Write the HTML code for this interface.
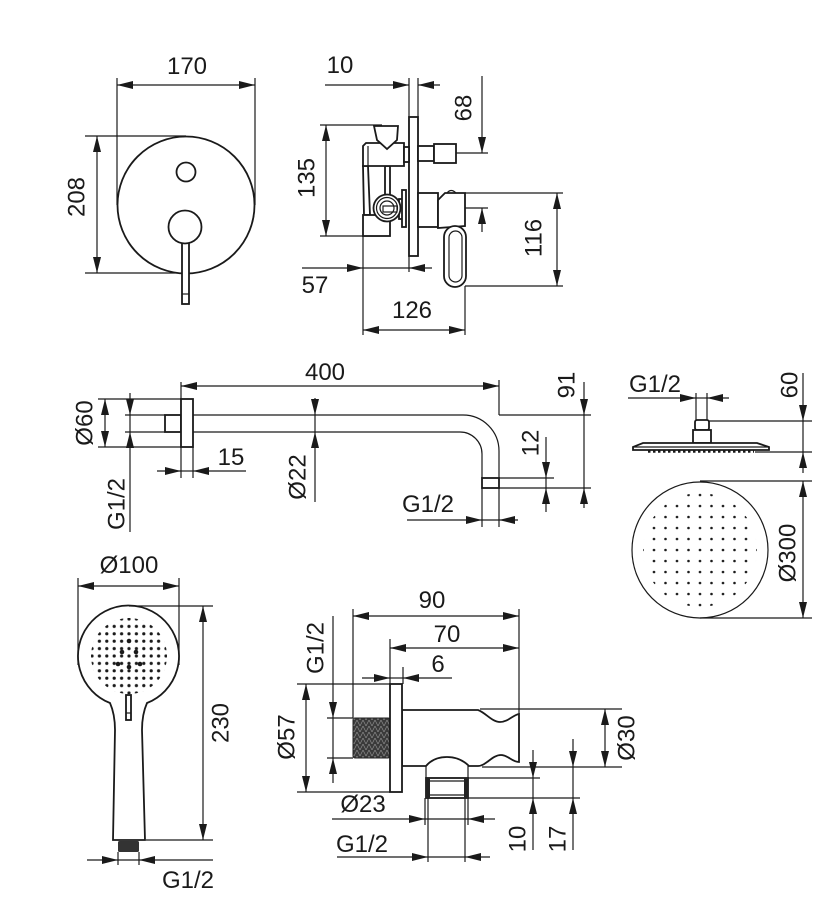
<!DOCTYPE html>
<html><head><meta charset="utf-8"><style>
html,body{margin:0;padding:0;background:#fff;}
svg{display:block;}
text{font-family:"Liberation Sans",sans-serif;font-size:24px;fill:#1a1a1a;}
.d{stroke:#1a1a1a;stroke-width:1.2;fill:none;}
.o{stroke:#1a1a1a;stroke-width:1.8;fill:#fff;}
</style></head><body>
<svg width="834" height="902" viewBox="0 0 834 902" xmlns="http://www.w3.org/2000/svg">
<defs>
<marker id="a" viewBox="0 0 16 8" refX="16" refY="4" markerWidth="16" markerHeight="8" markerUnits="userSpaceOnUse" orient="auto-start-reverse"><path d="M0,0 L16,4 L0,8 Z" fill="#1a1a1a"/></marker>
<pattern id="p1" x="694.25" y="544.5" width="11.5" height="11" patternUnits="userSpaceOnUse"><circle cx="5.75" cy="5.5" r="1.3" fill="#1a1a1a"/></pattern>
<pattern id="p2" x="125.3" y="652.3" width="7.4" height="7.4" patternUnits="userSpaceOnUse"><circle cx="3.7" cy="3.7" r="1.6" fill="#1a1a1a"/></pattern>
<pattern id="th" width="6" height="6" patternUnits="userSpaceOnUse"><rect width="6" height="6" fill="#3a3a3a"/><path d="M0,6 L3,0 L6,6" stroke="#8a8a8a" stroke-width="0.7" fill="none"/></pattern>
</defs>

<!-- ===== Section 1: front view mixer ===== -->
<line class="d" x1="117" y1="78" x2="117" y2="205"/>
<line class="d" x1="255" y1="78" x2="255" y2="205"/>
<line class="d" x1="117" y1="85" x2="255" y2="85" marker-start="url(#a)" marker-end="url(#a)"/>
<text x="187" y="74" text-anchor="middle">170</text>
<line class="d" x1="85" y1="136" x2="186" y2="136"/>
<line class="d" x1="85" y1="273" x2="186" y2="273"/>
<line class="d" x1="97" y1="136" x2="97" y2="273" marker-start="url(#a)" marker-end="url(#a)"/>
<text transform="translate(76,197) rotate(-90)" y="8.5" text-anchor="middle">208</text>
<circle class="o" cx="186" cy="205" r="68.5" stroke-width="2"/>
<circle class="o" cx="186" cy="172" r="9.5"/>
<rect class="o" x="182" y="238" width="7" height="66"/>
<line class="d" x1="182" y1="294" x2="189" y2="294"/>
<circle class="o" cx="185" cy="227" r="16.5" stroke-width="2"/>

<!-- ===== Section 2: side view mixer ===== -->
<line class="d" x1="409" y1="78" x2="409" y2="272"/>
<line class="d" x1="418" y1="78" x2="418" y2="117"/>
<line class="d" x1="325" y1="85" x2="409" y2="85" marker-end="url(#a)"/>
<line class="d" x1="440" y1="85" x2="418" y2="85" marker-end="url(#a)"/>
<text x="340" y="73" text-anchor="middle">10</text>

<line class="d" x1="482" y1="76" x2="482" y2="153" marker-end="url(#a)"/>
<line class="d" x1="482" y1="232" x2="482" y2="208" marker-end="url(#a)"/>
<line class="d" x1="456" y1="153" x2="488" y2="153"/>
<line class="d" x1="460" y1="208" x2="488" y2="208"/>
<text transform="translate(463,108) rotate(-90)" y="8.5" text-anchor="middle">68</text>

<line class="d" x1="320" y1="125" x2="382" y2="125"/>
<line class="d" x1="320" y1="236" x2="380" y2="236"/>
<line class="d" x1="326" y1="125" x2="326" y2="236" marker-start="url(#a)" marker-end="url(#a)"/>
<text transform="translate(306,178) rotate(-90)" y="8.5" text-anchor="middle">135</text>

<line class="d" x1="465" y1="193" x2="563" y2="193"/>
<line class="d" x1="465" y1="286" x2="563" y2="286"/>
<line class="d" x1="557" y1="193" x2="557" y2="286" marker-start="url(#a)" marker-end="url(#a)"/>
<text transform="translate(533,238) rotate(-90)" y="8.5" text-anchor="middle">116</text>

<line class="d" x1="302" y1="268" x2="363" y2="268" marker-end="url(#a)"/>
<line class="d" x1="363" y1="268" x2="409" y2="268"/>
<line class="d" x1="432" y1="268" x2="409" y2="268" marker-end="url(#a)"/>
<line class="d" x1="363" y1="236" x2="363" y2="335"/>
<text x="315" y="293" text-anchor="middle">57</text>

<line class="d" x1="465" y1="286" x2="465" y2="335"/>
<line class="d" x1="363" y1="330" x2="465" y2="330" marker-start="url(#a)" marker-end="url(#a)"/>
<text x="412" y="318" text-anchor="middle">126</text>

<!-- body -->
<rect class="o" x="409" y="117" width="9" height="139"/>
<path class="o" d="M363,166 L368,166 L370,215 L364,215 Z"/>
<rect class="o" x="385" y="166" width="5" height="31"/>
<path class="o" d="M366,143 L404,143 L404,166 L363,166 L363,146 Z"/>
<line class="d" x1="368" y1="146" x2="368" y2="166"/>
<rect class="o" x="404" y="147" width="5" height="15"/>
<path class="o" d="M374,126 L398,126 L397,140 L387,149 L377,140 Z"/>
<rect class="o" x="363" y="215" width="27" height="21"/>
<rect class="o" x="399" y="199" width="4" height="20"/>
<rect class="o" x="402" y="190" width="4" height="37"/>
<circle class="o" cx="387" cy="208" r="13.5" stroke-width="2"/>
<circle class="d" cx="387" cy="208" r="10.5"/>
<circle class="d" cx="387" cy="208" r="7" stroke-width="1.6"/>
<rect class="d" x="383" y="206" width="14" height="6"/>

<rect class="o" x="418" y="146" width="16" height="15"/>
<rect class="o" x="434" y="144" width="22" height="19"/>
<rect class="o" x="418" y="193" width="20" height="34"/>
<path class="d" d="M447,193 Q451,188 456,193"/>
<path class="o" d="M438,200 L445,193 L465,193 L465,226 L438,228 Z"/>
<rect class="o" x="444" y="226" width="22" height="61" rx="11"/>
<rect class="d" x="449" y="231" width="13" height="51" rx="6.5"/>

<!-- ===== Section 3: shower arm ===== -->
<line class="d" x1="181" y1="382" x2="181" y2="478"/>
<line class="d" x1="499" y1="380" x2="499" y2="415"/>
<line class="d" x1="181" y1="386" x2="499" y2="386" marker-start="url(#a)" marker-end="url(#a)"/>
<text x="325" y="380" text-anchor="middle">400</text>

<rect class="o" x="165" y="415" width="16" height="17"/>
<rect class="o" x="181" y="399" width="12" height="48"/>
<path class="d" stroke-width="1.8" d="M193,415 L463,415 A36,36 0 0 1 499,451 L499,478"/>
<path class="d" stroke-width="1.8" d="M193,432 L460,432 A22,22 0 0 1 482,454 L482,478"/>
<rect class="o" x="482" y="478" width="17" height="10"/>

<line class="d" x1="98" y1="399" x2="181" y2="399"/>
<line class="d" x1="98" y1="447" x2="181" y2="447"/>
<line class="d" x1="105" y1="399" x2="105" y2="447" marker-start="url(#a)" marker-end="url(#a)"/>
<text transform="translate(84,423) rotate(-90)" y="8.5" text-anchor="middle">Ø60</text>

<line class="d" x1="125" y1="415" x2="165" y2="415"/>
<line class="d" x1="125" y1="432" x2="165" y2="432"/>
<line class="d" x1="130" y1="393" x2="130" y2="415" marker-end="url(#a)"/>
<line class="d" x1="130" y1="415" x2="130" y2="432"/>
<line class="d" x1="130" y1="532" x2="130" y2="432" marker-end="url(#a)"/>
<text transform="translate(116,504) rotate(-90)" y="8.5" text-anchor="middle">G1/2</text>

<line class="d" x1="193" y1="447" x2="193" y2="478"/>
<line class="d" x1="157" y1="471" x2="181" y2="471" marker-end="url(#a)"/>
<line class="d" x1="181" y1="471" x2="193" y2="471"/>
<line class="d" x1="246" y1="471" x2="193" y2="471" marker-end="url(#a)"/>
<text x="231" y="465" text-anchor="middle">15</text>

<line class="d" x1="315" y1="398" x2="315" y2="415" marker-end="url(#a)"/>
<line class="d" x1="315" y1="415" x2="315" y2="432"/>
<line class="d" x1="315" y1="502" x2="315" y2="432" marker-end="url(#a)"/>
<text transform="translate(297,477) rotate(-90)" y="8.5" text-anchor="middle">Ø22</text>

<line class="d" x1="499" y1="415" x2="591" y2="415"/>
<line class="d" x1="499" y1="488" x2="591" y2="488"/>
<line class="d" x1="499" y1="478" x2="554" y2="478"/>
<line class="d" x1="584" y1="382" x2="584" y2="415" marker-end="url(#a)"/>
<line class="d" x1="584" y1="415" x2="584" y2="488"/>
<line class="d" x1="584" y1="508" x2="584" y2="488" marker-end="url(#a)"/>
<text transform="translate(566,385) rotate(-90)" y="8.5" text-anchor="middle">91</text>

<line class="d" x1="546" y1="437" x2="546" y2="478" marker-end="url(#a)"/>
<line class="d" x1="546" y1="478" x2="546" y2="488"/>
<line class="d" x1="546" y1="512" x2="546" y2="488" marker-end="url(#a)"/>
<text transform="translate(530,443) rotate(-90)" y="8.5" text-anchor="middle">12</text>

<line class="d" x1="482" y1="488" x2="482" y2="527"/>
<line class="d" x1="499" y1="488" x2="499" y2="527"/>
<line class="d" x1="407" y1="520" x2="482" y2="520" marker-end="url(#a)"/>
<line class="d" x1="482" y1="520" x2="499" y2="520"/>
<line class="d" x1="518" y1="520" x2="499" y2="520" marker-end="url(#a)"/>
<text x="428" y="512" text-anchor="middle">G1/2</text>

<!-- ===== Section 4: rain shower head ===== -->
<line class="d" x1="628" y1="398" x2="696" y2="398" marker-end="url(#a)"/>
<line class="d" x1="696" y1="398" x2="707" y2="398"/>
<line class="d" x1="729" y1="398" x2="707" y2="398" marker-end="url(#a)"/>
<text x="655" y="392" text-anchor="middle">G1/2</text>
<line class="d" x1="696" y1="393" x2="696" y2="420" stroke-width="1.5"/>
<line class="d" x1="707" y1="393" x2="707" y2="420" stroke-width="1.5"/>
<rect class="o" x="695" y="420" width="14" height="10" rx="2"/>
<rect class="o" x="693" y="430" width="18" height="13"/>
<path class="o" d="M643,443 L757,443 L769,447 L769,450 L633,450 L633,447 Z"/>
<line class="d" x1="633" y1="447" x2="769" y2="447"/>
<line x1="648" y1="451.5" x2="754" y2="451.5" stroke="#1a1a1a" stroke-width="2.5" stroke-dasharray="2.5 2.5"/>

<line class="d" x1="709" y1="421" x2="812" y2="421"/>
<line class="d" x1="755" y1="452" x2="812" y2="452"/>
<line class="d" x1="803" y1="373" x2="803" y2="421" marker-end="url(#a)"/>
<line class="d" x1="803" y1="421" x2="803" y2="452"/>
<line class="d" x1="803" y1="473" x2="803" y2="452" marker-end="url(#a)"/>
<text transform="translate(789,385) rotate(-90)" y="8.5" text-anchor="middle">60</text>

<circle class="d" cx="700" cy="550" r="68" stroke-width="1.5"/>
<circle cx="700" cy="550" r="57" fill="url(#p1)"/>
<line class="d" x1="700" y1="481" x2="812" y2="481"/>
<line class="d" x1="700" y1="618" x2="812" y2="618"/>
<line class="d" x1="803" y1="481" x2="803" y2="618" marker-start="url(#a)" marker-end="url(#a)"/>
<text transform="translate(787,553) rotate(-90)" y="8.5" text-anchor="middle">Ø300</text>

<!-- ===== Section 5: hand shower ===== -->
<line class="d" x1="78" y1="578" x2="78" y2="665"/>
<line class="d" x1="179" y1="578" x2="179" y2="665"/>
<line class="d" x1="78" y1="586" x2="179" y2="586" marker-start="url(#a)" marker-end="url(#a)"/>
<text x="129" y="573" text-anchor="middle">Ø100</text>
<path class="o" stroke-width="2" d="M110,703 A50.5,50.5 0 1 1 147,703 C143,712 142,720 142,730 L145,840 L113,840 L115,730 C115,720 114,712 110,703 Z"/>
<circle cx="129" cy="656" r="38" fill="url(#p2)"/>
<circle cx="122" cy="652" r="2.3" fill="#1a1a1a"/><circle cx="136" cy="652" r="2.3" fill="#1a1a1a"/>
<circle cx="129" cy="641" r="2.3" fill="#1a1a1a"/><circle cx="129" cy="667" r="2.3" fill="#1a1a1a"/>
<circle cx="118" cy="664" r="2.3" fill="#1a1a1a"/><circle cx="140" cy="664" r="2.3" fill="#1a1a1a"/>
<rect class="o" x="126" y="695" width="5" height="25" stroke-width="1.4"/>
<line class="d" x1="126" y1="713" x2="131" y2="713"/>
<rect x="118" y="841" width="21" height="11" rx="1.5" fill="#333"/>
<line class="d" x1="118" y1="852" x2="118" y2="865"/>
<line class="d" x1="139" y1="852" x2="139" y2="865"/>
<line class="d" x1="87" y1="860" x2="118" y2="860" marker-end="url(#a)"/>
<line class="d" x1="118" y1="860" x2="139" y2="860"/>
<line class="d" x1="213" y1="860" x2="139" y2="860" marker-end="url(#a)"/>
<text x="188" y="888" text-anchor="middle">G1/2</text>
<line class="d" x1="129" y1="606" x2="213" y2="606"/>
<line class="d" x1="146" y1="840" x2="213" y2="840"/>
<line class="d" x1="203" y1="606" x2="203" y2="840" marker-start="url(#a)" marker-end="url(#a)"/>
<text transform="translate(220,723) rotate(-90)" y="8.5" text-anchor="middle">230</text>

<!-- ===== Section 6: wall elbow ===== -->
<line class="d" x1="353" y1="609" x2="353" y2="718"/>
<line class="d" x1="519" y1="609" x2="519" y2="714"/>
<line class="d" x1="353" y1="616" x2="519" y2="616" marker-start="url(#a)" marker-end="url(#a)"/>
<text x="432" y="608" text-anchor="middle">90</text>
<line class="d" x1="390" y1="639" x2="390" y2="684"/>
<line class="d" x1="390" y1="648" x2="519" y2="648" marker-start="url(#a)" marker-end="url(#a)"/>
<text x="447" y="642" text-anchor="middle">70</text>
<line class="d" x1="403" y1="667" x2="403" y2="684"/>
<line class="d" x1="362" y1="678" x2="390" y2="678" marker-end="url(#a)"/>
<line class="d" x1="390" y1="678" x2="403" y2="678"/>
<line class="d" x1="452" y1="678" x2="403" y2="678" marker-end="url(#a)"/>
<text x="438" y="672" text-anchor="middle">6</text>

<line class="d" x1="297" y1="684" x2="390" y2="684"/>
<line class="d" x1="297" y1="792" x2="390" y2="792"/>
<line class="d" x1="306" y1="684" x2="306" y2="792" marker-start="url(#a)" marker-end="url(#a)"/>
<text transform="translate(286,737) rotate(-90)" y="8.5" text-anchor="middle">Ø57</text>

<line class="d" x1="327" y1="718" x2="353" y2="718"/>
<line class="d" x1="327" y1="758" x2="353" y2="758"/>
<line class="d" x1="333" y1="616" x2="333" y2="718" marker-end="url(#a)"/>
<line class="d" x1="333" y1="718" x2="333" y2="758"/>
<line class="d" x1="333" y1="783" x2="333" y2="758" marker-end="url(#a)"/>
<text transform="translate(315,648) rotate(-90)" y="8.5" text-anchor="middle">G1/2</text>

<!-- body -->
<rect x="353" y="718" width="37" height="40" rx="2" fill="url(#th)" stroke="#222" stroke-width="1"/>
<path class="o" d="M402,710 L478,710 C486,713 492,722 500,722 C508,722 513,715 519,714 L519,762 C512,762 508,755 501,755 C492,755 486,766 478,766 L469,766 C463,760 456,757 447,757 C438,757 431,760 426,766 L402,766 Z"/>
<rect class="o" x="390" y="684" width="12" height="108"/>
<line class="d" stroke-width="1.5" x1="426" y1="766" x2="426" y2="778"/>
<line class="d" stroke-width="1.5" x1="468" y1="766" x2="468" y2="778"/>
<rect class="o" x="426" y="778" width="42" height="20"/>
<rect x="426" y="778" width="4" height="20" fill="#222"/>
<rect x="464" y="778" width="4" height="20" fill="#222"/>
<line class="d" x1="430" y1="781" x2="464" y2="781"/>
<line class="d" x1="430" y1="795" x2="464" y2="795"/>

<line class="d" x1="480" y1="709" x2="622" y2="709"/>
<line class="d" x1="482" y1="767" x2="622" y2="767"/>
<line class="d" x1="605" y1="709" x2="605" y2="767" marker-start="url(#a)" marker-end="url(#a)"/>
<text transform="translate(626,738) rotate(-90)" y="8.5" text-anchor="middle">Ø30</text>

<line class="d" x1="468" y1="778" x2="540" y2="778"/>
<line class="d" x1="468" y1="798" x2="580" y2="798"/>
<line class="d" x1="533" y1="750" x2="533" y2="778" marker-end="url(#a)"/>
<line class="d" x1="533" y1="778" x2="533" y2="798"/>
<line class="d" x1="533" y1="850" x2="533" y2="798" marker-end="url(#a)"/>
<text transform="translate(517,839) rotate(-90)" y="8.5" text-anchor="middle">10</text>
<line class="d" x1="573" y1="739" x2="573" y2="767" marker-end="url(#a)"/>
<line class="d" x1="573" y1="767" x2="573" y2="798"/>
<line class="d" x1="573" y1="850" x2="573" y2="798" marker-end="url(#a)"/>
<text transform="translate(557,839) rotate(-90)" y="8.5" text-anchor="middle">17</text>

<line class="d" x1="425" y1="798" x2="425" y2="825"/>
<line class="d" x1="468" y1="798" x2="468" y2="825"/>
<line class="d" x1="332" y1="819" x2="425" y2="819" marker-end="url(#a)"/>
<line class="d" x1="425" y1="819" x2="468" y2="819"/>
<line class="d" x1="495" y1="819" x2="468" y2="819" marker-end="url(#a)"/>
<text x="363" y="812" text-anchor="middle">Ø23</text>

<line class="d" x1="428" y1="798" x2="428" y2="862"/>
<line class="d" x1="465" y1="798" x2="465" y2="862"/>
<line class="d" x1="337" y1="857" x2="428" y2="857" marker-end="url(#a)"/>
<line class="d" x1="428" y1="857" x2="465" y2="857"/>
<line class="d" x1="490" y1="857" x2="465" y2="857" marker-end="url(#a)"/>
<text x="362" y="852" text-anchor="middle">G1/2</text>
</svg>
</body></html>
